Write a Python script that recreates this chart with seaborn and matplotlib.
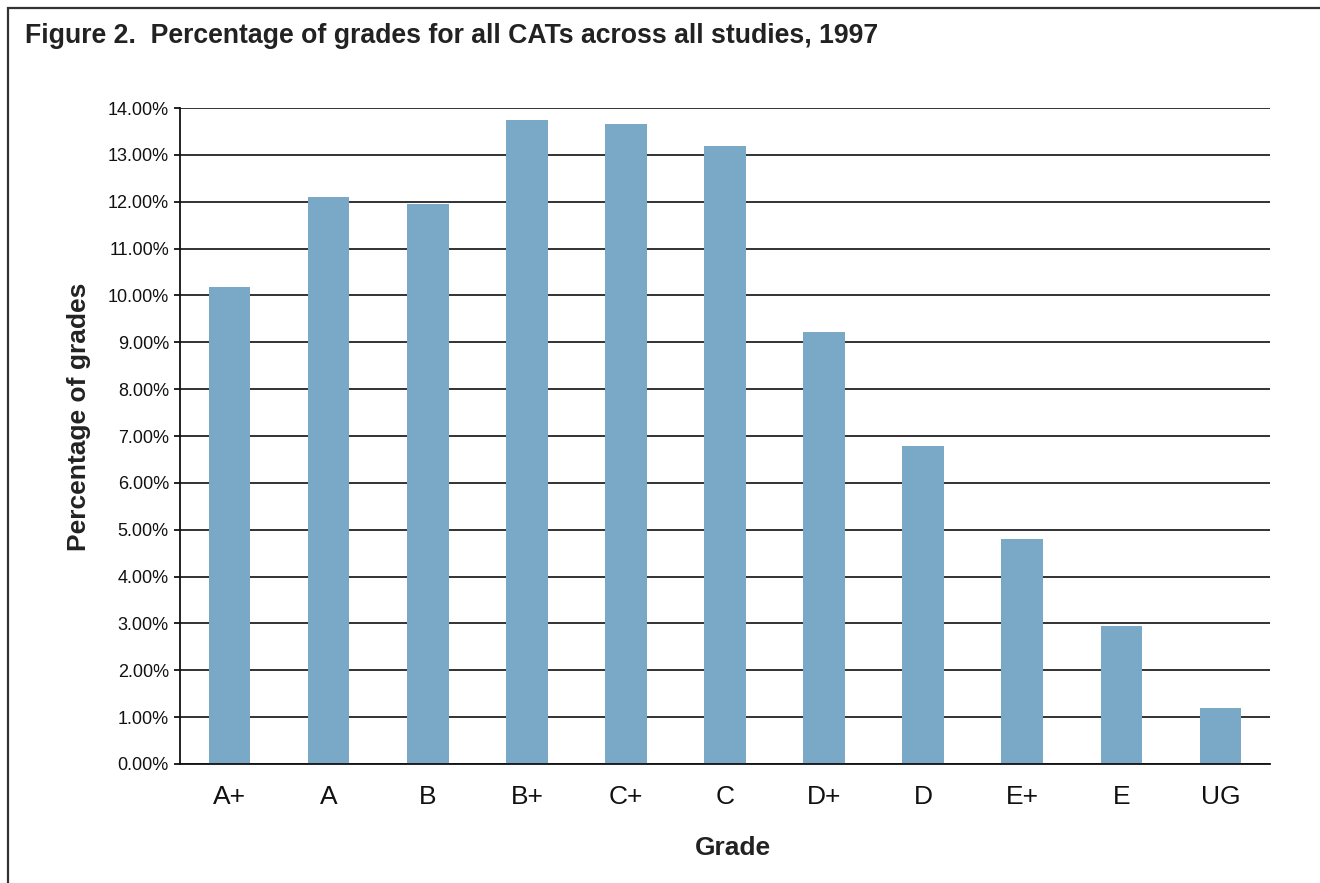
import matplotlib
matplotlib.use("Agg")
import matplotlib.pyplot as plt
import matplotlib.patches as mpatches
from matplotlib.ticker import FuncFormatter, FixedLocator
import seaborn as sns
import pandas as pd

grades = ["A+", "A", "B", "B+", "C+", "C", "D+", "D", "E+", "E", "UG"]
percent = [10.18, 12.10, 11.95, 13.74, 13.66, 13.19, 9.22, 6.79, 4.81, 2.95, 1.20]
y_ticks = [0, 1, 2, 3, 4, 5, 6, 7, 8, 9, 10, 11, 12, 13, 14]
title = "Figure 2.  Percentage of grades for all CATs across all studies, 1997"

sns.set_style("white")
plt.rcParams["font.family"] = ["Liberation Sans", "DejaVu Sans"]

W, H = 1320, 883
fig = plt.figure(figsize=(W / 100, H / 100), dpi=100)
ax = fig.add_axes([180 / W, (H - 764) / H, (1270 - 180) / W, (764 - 108) / H])

df = pd.DataFrame({"Grade": grades, "Percent": percent})
sns.barplot(data=df, x="Grade", y="Percent", color="#7aa8c7", saturation=1,
            width=0.42, ax=ax, zorder=3, linewidth=0, edgecolor="none")

ax.set_ylim(0, 14)
ax.set_xlim(-0.5, len(grades) - 0.5)
ax.yaxis.set_major_locator(FixedLocator(y_ticks))
ax.yaxis.set_major_formatter(FuncFormatter(lambda v, p: f"{v:.2f}%"))
ax.yaxis.grid(True, color="#222222", linewidth=1.3, zorder=1)
ax.set_axisbelow(True)

for s in ["top", "right"]:
    ax.spines[s].set_visible(False)
for s in ["left", "bottom"]:
    ax.spines[s].set_color("#111111")
    ax.spines[s].set_linewidth(1.3)
    ax.spines[s].set_zorder(4)

ax.set_xticks([i - 0.5 for i in range(len(grades) + 1)], minor=True)
ax.tick_params(axis="x", which="minor", length=7.5, width=1.3, color="#333333", direction="out")
ax.tick_params(axis="x", which="major", length=0, pad=15, labelsize=19, labelcolor="#111111")
ax.tick_params(axis="y", which="major", length=4.5, width=1.3, color="#111111",
               direction="out", pad=3.5, labelsize=13, labelcolor="#111111", left=True)
ax.set_xlabel("")
ax.set_ylabel("")

fig.text(25 / W, 1 - 36 / H, title, ha="left", va="center", fontsize=19.2,
         fontweight="bold", color="#222222")
fig.text(79 / W, 1 - 417 / H, "Percentage of grades", ha="center", va="center",
         rotation=90, fontsize=19, fontweight="bold", color="#222222")
fig.text(733 / W, 1 - 848 / H, "Grade", ha="center", va="center", fontsize=19,
         fontweight="bold", color="#222222")

frame = mpatches.Rectangle((8 / W, -0.2), 2.0, (H - 8) / H + 0.2, fill=False,
                           edgecolor="#333333", linewidth=1.6,
                           transform=fig.transFigure, clip_on=False)
fig.patches.append(frame)

fig.savefig("out.png", dpi=100, facecolor="white")
